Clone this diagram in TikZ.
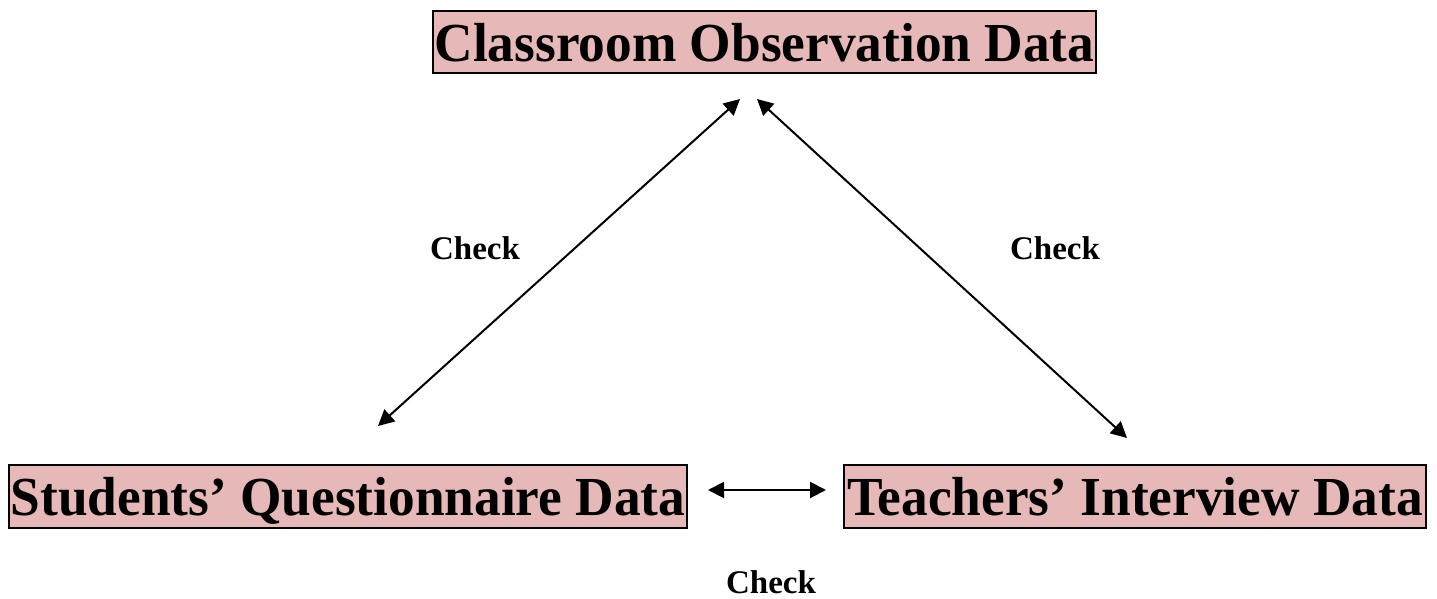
\documentclass[tikz,border=0pt]{standalone}
\usepackage{fontspec}
\setmainfont{Liberation Serif}
\newfontfamily\boxfont{Liberation Serif}[FakeStretch=0.97]
\usetikzlibrary{arrows.meta}
\definecolor{boxpink}{HTML}{E6B8B7}
\tikzset{
	databox/.style={draw, line width=1pt, fill=boxpink, inner sep=0pt,
		text depth=0pt, font=\boxfont\fontsize{27.5}{32}\selectfont\bfseries},
	checklabel/.style={font=\fontsize{16.5}{19}\selectfont\bfseries},
	twoway/.style={line width=1pt, {Triangle[length=8pt,width=8pt]}-{Triangle[length=8pt,width=8pt]}}
}
\begin{document}
\begin{tikzpicture}[x=0.5pt, y=-0.5pt]
\useasboundingbox (0,0) rectangle (1437,599);
% the three data sources
\node[databox, minimum width=331.5pt, minimum height=31pt] (obs) at (764.5, 42) {Classroom Observation Data};
\node[databox, minimum width=339pt, minimum height=31.5pt] (stu) at (348, 496.5) {Students’ Questionnaire Data};
\node[databox, minimum width=291pt, minimum height=31.5pt] (tea) at (1135, 496.5) {Teachers’ Interview Data};
% arrow ends
\coordinate (obsL) at (740, 99);
\coordinate (obsR) at (757, 99);
\coordinate (stuT) at (378, 426);
\coordinate (stuR) at (708, 490);
\coordinate (teaT) at (1127, 438);
\coordinate (teaL) at (826, 490);
\draw[twoway] (obsL) -- (stuT);
\draw[twoway] (obsR) -- (teaT);
\draw[twoway] (stuR) -- (teaL);
% labels
\node[checklabel] (chkL) at (475, 248) {Check};
\node[checklabel] (chkR) at (1055, 248) {Check};
\node[checklabel] (chkB) at (771, 582) {Check};
\end{tikzpicture}
\end{document}
